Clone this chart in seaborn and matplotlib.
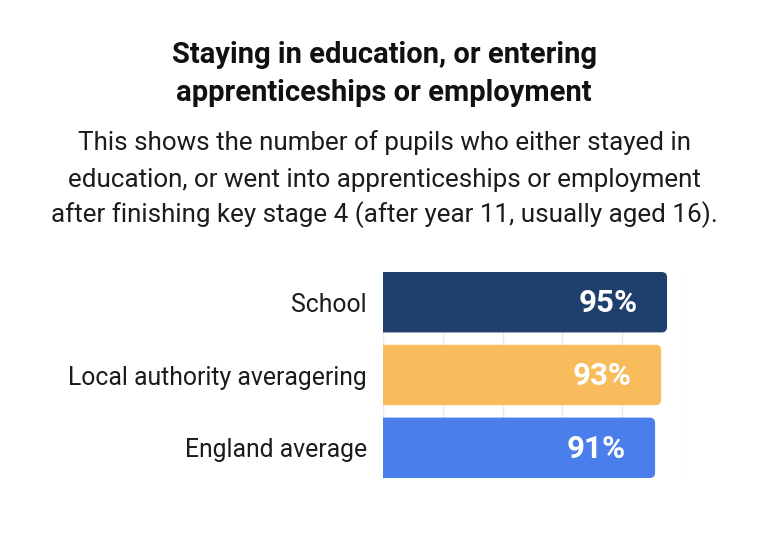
import matplotlib
matplotlib.use("Agg")
import matplotlib.pyplot as plt
import seaborn as sns
import pandas as pd
from matplotlib.patches import FancyBboxPatch

# data
categories = ["School", "Local authority averagering", "England average"]
values = [95, 93, 91]
bar_colors = ["#1F3F6D", "#F9BC5D", "#4A7FEB"]
value_labels = ["95%", "93%", "91%"]

title_lines = ["Staying in education, or entering",
               "apprenticeships or employment"]
subtitle_lines = ["This shows the number of pupils who either stayed in",
                  "education, or went into apprenticeships or employment",
                  "after finishing key stage 4 (after year 11, usually aged 16)."]

sns.set_theme(style="white")
plt.rcParams["font.family"] = ["Roboto", "DejaVu Sans"]

df = pd.DataFrame({"group": categories, "value": values})

fig = plt.figure(figsize=(7.68, 5.43), dpi=100)
ax = fig.add_axes([383 / 768, 1 - 478 / 543, 299 / 768, 206 / 543])

sns.barplot(data=df, x="value", y="group", hue="group", palette=bar_colors,
            width=0.83, legend=False, ax=ax, saturation=1)

ax.set_xlim(0, 100)
ax.set_ylim(2.415, -0.415)
ax.set_xticks([0, 20, 40, 60, 80, 100])
ax.xaxis.grid(True, color="#e9e9e9", linewidth=1)
ax.set_axisbelow(True)
for s in ax.spines.values():
    s.set_visible(False)
ax.tick_params(axis="x", labelbottom=False, length=0)
ax.tick_params(axis="y", length=0, pad=11.5, labelsize=17.8, labelcolor="#1c1c1c")
ax.set_xlabel("")
ax.set_ylabel("")

# rounded right ends: swap rectangles for rounded boxes
px_x = 299 / 100.0
px_y = 206 / 2.83
r = 5.5
for p in list(ax.patches):
    x0, y0 = p.get_x(), p.get_y()
    w, h = p.get_width(), p.get_height()
    fc = p.get_facecolor()
    p.set_visible(False)
    box = FancyBboxPatch((x0 - 5, y0), w + 5, h,
                         boxstyle=f"round,pad=0,rounding_size={r / px_x}",
                         mutation_aspect=(px_x / px_y),
                         facecolor=fc, edgecolor="none", zorder=3)
    ax.add_patch(box)

for i, (v, lab) in enumerate(zip(values, value_labels)):
    ax.text(v - 9.8, i + 0.01, lab, ha="right", va="center", color="white",
            fontsize=22.5, fontweight="bold", zorder=4)

# titles
title_y = [55, 93]
for line, y in zip(title_lines, title_y):
    fig.text(0.5, 1 - y / 543, line, ha="center", va="center",
             fontsize=21, fontweight="bold", color="#111111")
sub_y = [143, 180, 215]
for line, y in zip(subtitle_lines, sub_y):
    fig.text(0.5, 1 - y / 543, line, ha="center", va="center",
             fontsize=18.7, color="#1c1c1c")

fig.savefig("out.png", dpi=100)
